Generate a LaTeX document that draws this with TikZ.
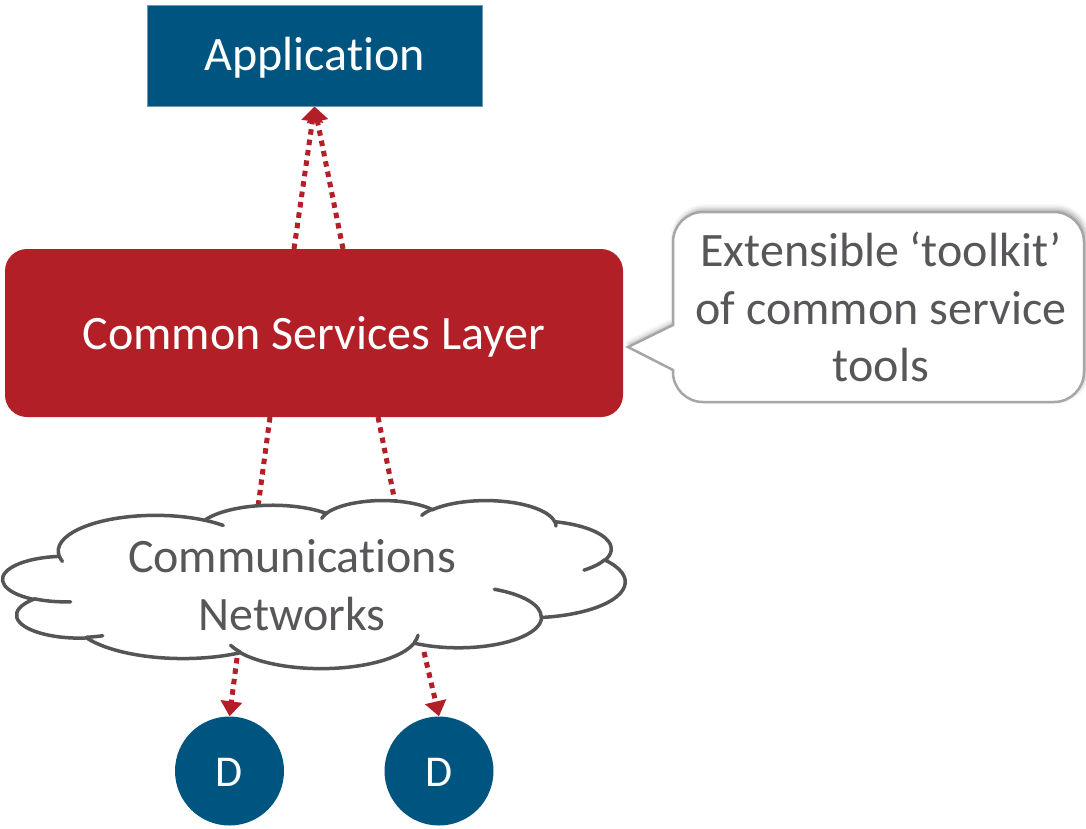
\documentclass[tikz,border=0pt]{standalone}
\usepackage{fontspec}
\setmainfont{Carlito}[Ligatures=NoCommon]
\usetikzlibrary{arrows.meta,shadows.blur}

\pgfdeclarelayer{back}
\pgfsetlayers{back,main}

\definecolor{appblue}{RGB}{0,85,128}
\definecolor{appedge}{RGB}{110,150,180}
\definecolor{cslred}{RGB}{178,31,39}
\definecolor{linkred}{RGB}{178,31,39}
\definecolor{txtgray}{RGB}{88,86,89}
\definecolor{edgegray}{RGB}{85,84,86}
\definecolor{notegray}{RGB}{166,166,166}

% Elliptic arc given by radii, start angle and sweep (angles measured as
% true directions, y axis pointing down); converted to TikZ's parametric angles.
\newcommand\cloudarc[4]{%
  \pgfextra{%
    \pgfmathparse{atan2((#1)*sin(#3),(#2)*cos(#3))}\xdef\cloudA{\pgfmathresult}%
    \pgfmathparse{atan2((#1)*sin(#3+#4),(#2)*cos(#3+#4))}\xdef\cloudB{\pgfmathresult}%
    \pgfmathparse{\cloudB<\cloudA ? \cloudB+360 : \cloudB}\xdef\cloudB{\pgfmathresult}%
  }%
  arc[start angle=\cloudA, end angle=\cloudB, x radius=#1, y radius=#2]%
}

\begin{document}
\begin{tikzpicture}[x=1pt,y=-1pt,
  txt/.style={font=\fontsize{48}{57.5}\selectfont},
  link/.style={draw=linkred, line width=5pt, dash pattern=on 5.5pt off 5pt},
  tipped/.style={link, -{Triangle[width=21pt,length=15pt]}},
  dev/.style={circle, fill=appblue, minimum size=109pt, inner sep=0pt,
    text=white, font=\fontsize{44}{50}\selectfont, text height=31pt, text depth=0pt},
  cloudline/.style={draw=edgegray, line width=3.5pt, line cap=round},
  notebox/.style={draw=notegray, line width=2.5pt, fill=white,
    blur shadow={shadow xshift=2pt, shadow yshift=3pt,
      shadow blur radius=5pt, shadow opacity=35}},
]
\useasboundingbox (0,0) rectangle (1086,828);

% Boxes
\node[fill=appblue, draw=appedge, line width=1pt, minimum width=335pt,
  minimum height=101pt, inner sep=0pt, text=white, txt,
  text height=30.5pt, text depth=0pt] (app) at (314.5,55.5) {Application};
\node[fill=cslred, rounded corners=22pt, minimum width=618pt, minimum height=168pt,
  inner sep=0pt, text=white, txt, text height=32pt, text depth=0pt]
  (csl) at (314,333) {Common Services Layer};

% Devices
\node[dev] (d1) at (229.5,771) {D};
\node[dev] (d2) at (439,771) {D};

% Speech bubble
\path[notebox] (673,325) -- (673,242) arc[start angle=180, end angle=90, radius=30pt]
  -- (1054,212) arc[start angle=90, end angle=0, radius=30pt]
  -- (1084,372) arc[start angle=0, end angle=-90, radius=30pt]
  -- (703,402) arc[start angle=-90, end angle=-180, radius=30pt]
  -- (673,370) -- (628,347) -- cycle;
\node[txt, text=txtgray, align=center] (note) at (881,307)
  {Extensible ‘toolkit’\\of common service\\tools};

% Network cloud
\begin{scope}[shift={(3,500)}, x=1.4398pt, y=-0.38889pt]
  \path[cloudline, fill=white] (39.00,143.70)
    \cloudarc{67.53}{91.90}{-190.4875}{123.7805}
    \cloudarc{53.33}{72.67}{-144.1024}{89.9452}
    \cloudarc{43.65}{59.45}{-145.8079}{99.7230}
    \cloudarc{48.57}{65.95}{-130.9861}{117.2417}
    \cloudarc{53.33}{72.73}{-78.7089}{109.0269}
    \cloudarc{67.75}{92.20}{-46.2673}{130.2690}
    \cloudarc{57.85}{78.67}{0.6250}{114.0333}
    \cloudarc{67.52}{92.15}{22.4516}{115.1726}
    \cloudarc{77.20}{105.43}{66.2426}{75.7110}
    \cloudarc{43.60}{59.18}{-274.9421}{146.7356}
    \cloudarc{43.45}{59.45}{-246.8285}{152.5189}
    -- cycle;
  \path[cloudline]
    (46.93,261.77) \cloudarc{43.45}{59.45}{86.7420}{26.4295}
    (69.28,348.99) \cloudarc{43.60}{59.18}{73.6105}{11.4475}
    (164.78,390.90) \cloudarc{67.52}{92.15}{137.6242}{14.0811}
    (288.27,347.51) \cloudarc{67.52}{92.15}{6.4533}{15.9984}
    (341.29,229.54) \cloudarc{57.85}{78.67}{-70.2924}{70.9174}
    (417.98,153.54) \cloudarc{53.33}{72.73}{30.3180}{27.7515}
    (383.24,54.26) \cloudarc{48.57}{65.95}{-13.7443}{14.8589}
    (290.78,39.52) \cloudarc{48.57}{65.95}{-149.1815}{18.1954}
    (221.41,47.20) \cloudarc{43.65}{59.45}{-163.4943}{17.6864}
    (140.00,51.92) \cloudarc{67.53}{91.90}{-66.7070}{12.3194}
    (41.27,157.89) \cloudarc{67.53}{91.90}{157.6544}{11.8582};
\end{scope}
\node[txt, text=txtgray, align=center] (net) at (292,585) {Communications\\Networks};

% Connector end points on the shape outlines
\coordinate (u1) at (294,249);
\coordinate (u2) at (343,249);
\coordinate (m1) at (270,417);
\coordinate (m2) at (378,417);
\coordinate (n1) at (258,507);
\coordinate (n2) at (395,502);
\coordinate (b1) at (237,658);
\coordinate (b2) at (424,652);

\begin{pgfonlayer}{back}
  \draw[tipped] (u1) -- (app.south);
  \draw[tipped] (u2) -- (app.south);
  \draw[link] (m1) -- (n1);
  \draw[link] (m2) -- (n2);
  \draw[tipped] (b1) -- (d1.north);
  \draw[tipped] (b2) -- (d2.north);
\end{pgfonlayer}
\end{tikzpicture}
\end{document}
